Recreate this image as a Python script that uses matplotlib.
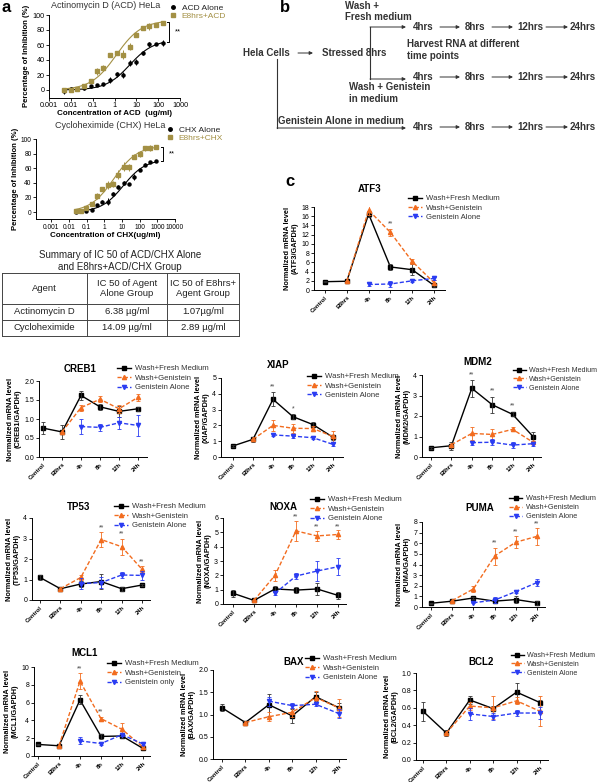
import numpy as np
import matplotlib.pyplot as plt
from matplotlib import ticker
from matplotlib.lines import Line2D

plt.rcParams['font.family'] = ['Liberation Sans', 'DejaVu Sans']

W, H = 600, 782
OLIVE = '#a39044'
ORANGE = '#f26c1f'
BLUE = '#2a3cf2'

# ---- panel a: dose response (% inhibition)
acd_conc = [0.005, 0.01, 0.02, 0.04, 0.08, 0.16, 0.31, 0.63, 1.25, 2.5, 5, 10, 20, 40, 80, 160]
acd_alone = [-1, 1, 1, 3, 5, 7, 8, 14, 21, 20, 36, 38, 49, 61, 62, 63]
acd_alone_err = [4, 3, 2, 3, 2, 1, 2, 4, 3, 4, 4, 4, 2, 3, 1, 4]
acd_e8 = [0, 0, 1, 5, 12, 25, 29, 47, 49, 47, 58, 74, 83, 85, 87, 90]
acd_e8_err = [3, 2, 2, 2, 3, 5, 4, 2, 2, 6, 5, 3, 3, 5, 2, 2]
acd_alone_fit = (67, 5.0, 0.8)   # top, EC50, hill slope
acd_e8_fit = (93, 1.2, 0.75)

chx_conc = [0.024, 0.049, 0.098, 0.195, 0.39, 0.78, 1.56, 3.1, 6.25, 12.5, 25, 50, 100, 200, 400, 800]
chx_alone = [0, 1, 2, 3, 9, 14, 14, 25, 34, 40, 39, 48, 58, 65, 69, 70]
chx_alone_err = [1, 1, 2, 2, 1, 2, 5, 3, 3, 3, 1, 4, 1, 2, 1, 1]
chx_e8 = [1, 1, 6, 11, 22, 32, 37, 38, 51, 62, 61, 76, 80, 87, 88, 89]
chx_e8_err = [2, 2, 1, 2, 4, 2, 5, 4, 6, 6, 5, 3, 4, 4, 4, 2]
chx_alone_fit = (72, 12.0, 0.7)
chx_e8_fit = (91, 3.5, 0.65)

table_rows = [["Agent", "IC 50 of Agent\nAlone Group", "IC 50 of E8hrs+\nAgent Group"],
              ["Actinomycin D", "6.38 \u00b5g/ml", "1.07\u00b5g/ml"],
              ["Cycloheximide", "14.09 \u00b5g/ml", "2.89 \u00b5g/ml"]]

# ---- panel c: qPCR time course
times = ["Control", "E8hrs", "4h", "8h", "12h", "24h"]

atf3_fresh = [1.8, 1.9, 16.5, 5.0, 4.4, 1.0]
atf3_fresh_err = [0.1, 0.1, 0.6, 0.6, 1.2, 0.4]
atf3_gen = [None, 1.9, 17.3, 12.5, 6.2, 1.6]
atf3_gen_err = [0, 0, 1.0, 0.8, 0.6, 0.5]
atf3_alone = [None, None, 1.2, 1.3, 2.0, 2.5]
atf3_alone_err = [0, 0, 0.3, 0.6, 0.3, 0.4]

creb1_fresh = [0.76, 0.66, 1.62, 1.32, 1.20, 1.27]
creb1_fresh_err = [0.15, 0.18, 0.12, 0.08, 0.15, 0.05]
creb1_gen = [None, 0.66, 1.30, 1.52, 1.27, 1.57]
creb1_gen_err = [0, 0, 0.08, 0.08, 0.1, 0.1]
creb1_alone = [None, None, 0.80, 0.78, 0.90, 0.83]
creb1_alone_err = [0, 0, 0.2, 0.1, 0.15, 0.27]

xiap_fresh = [0.7, 1.12, 3.65, 2.55, 2.05, 1.25]
xiap_fresh_err = [0.05, 0.15, 0.45, 0.15, 0.15, 0.15]
xiap_gen = [None, 1.12, 2.0, 1.82, 1.8, 1.3]
xiap_gen_err = [0, 0, 0.35, 0.3, 0.15, 0.35]
xiap_alone = [None, None, 1.4, 1.32, 1.22, 0.8]
xiap_alone_err = [0, 0, 0.1, 0.1, 0.1, 0.1]

mdm2_fresh = [0.45, 0.55, 3.35, 2.55, 2.08, 1.0]
mdm2_fresh_err = [0.05, 0.2, 0.4, 0.4, 0.1, 0.2]
mdm2_gen = [None, 0.6, 1.15, 1.1, 1.35, 0.72]
mdm2_gen_err = [0, 0, 0.3, 0.25, 0.1, 0.05]
mdm2_alone = [None, None, 0.7, 0.72, 0.58, 0.65]
mdm2_alone_err = [0, 0, 0.1, 0.15, 0.15, 0.1]

tp53_fresh = [1.1, 0.55, 0.78, 0.9, 0.55, 0.73]
tp53_fresh_err = [0.1, 0.1, 0.15, 0.35, 0.1, 0.05]
tp53_gen = [None, 0.55, 1.1, 2.95, 2.6, 1.5]
tp53_gen_err = [0, 0, 0.1, 0.35, 0.4, 0.15]
tp53_alone = [None, None, 0.8, 0.85, 1.22, 1.2]
tp53_alone_err = [0, 0, 0.25, 0.25, 0.15, 0.2]

noxa_fresh = [0.75, 0.25, 1.05, 0.97, 1.05, 0.6]
noxa_fresh_err = [0.25, 0.05, 0.2, 0.2, 0.4, 0.25]
noxa_gen = [None, 0.25, 2.0, 5.1, 4.75, 4.85]
noxa_gen_err = [0, 0, 0.4, 0.7, 0.35, 0.3]
noxa_alone = [None, None, 0.75, 1.95, 2.3, 2.6]
noxa_alone_err = [0, 0, 0.15, 0.2, 0.7, 0.6]

puma_fresh = [0.35, 0.55, 0.85, 0.55, 0.7, 0.4]
puma_fresh_err = [0.05, 0.1, 0.1, 0.15, 0.3, 0.2]
puma_gen = [None, 0.6, 1.7, 4.8, 6.1, 6.65]
puma_gen_err = [0, 0, 0.25, 0.8, 0.55, 0.8]
puma_alone = [None, None, 0.4, 0.65, 1.45, 2.3]
puma_alone_err = [0, 0, 0.05, 0.3, 0.1, 0.3]

mcl1_fresh = [1.3, 1.15, 6.3, 2.2, 2.25, 0.85]
mcl1_fresh_err = [0.1, 0.2, 0.5, 0.3, 0.2, 0.1]
mcl1_gen = [None, 1.15, 8.4, 4.2, 3.0, 1.0]
mcl1_gen_err = [0, 0, 0.9, 0.15, 0.7, 0.1]
mcl1_alone = [None, None, 1.7, 1.4, 2.4, 1.35]
mcl1_alone_err = [0, 0, 0.4, 0.2, 0.2, 0.15]

bax_fresh = [1.15, 0.82, 1.22, 0.97, 1.4, 1.15]
bax_fresh_err = [0.08, 0.03, 0.25, 0.15, 0.1, 0.1]
bax_gen = [None, 0.82, 0.95, 1.05, 1.38, 1.15]
bax_gen_err = [0, 0, 0.1, 0.1, 0.15, 0.2]
bax_alone = [None, None, 1.3, 1.2, 1.23, 1.02]
bax_alone_err = [0, 0, 0.1, 0.05, 0.05, 0.1]

bcl2_fresh = [0.56, 0.31, 0.69, 0.59, 0.78, 0.66]
bcl2_fresh_err = [0.11, 0.03, 0.05, 0.03, 0.11, 0.03]
bcl2_gen = [None, 0.31, 0.62, 0.60, 0.68, 0.56]
bcl2_gen_err = [0, 0, 0.05, 0.13, 0.04, 0.17]
bcl2_alone = [None, None, 0.53, 0.50, 0.54, 0.54]
bcl2_alone_err = [0, 0, 0.07, 0.04, 0.03, 0.07]

# significance marks: (time index, y, text)
atf3_stars = [(3, 13.6, '**')]
xiap_stars = [(2, 4.2, '**'), (3, 2.85, '*')]
mdm2_stars = [(2, 3.85, '**'), (3, 3.05, '**'), (4, 2.3, '**')]
tp53_stars = [(3, 3.35, '**'), (4, 3.05, '**'), (5, 1.7, '**')]
noxa_stars = [(3, 5.85, '**'), (4, 5.15, '**'), (5, 5.15, '**')]
puma_stars = [(3, 5.7, '**'), (4, 6.7, '**'), (5, 7.5, '**')]
mcl1_stars = [(2, 9.4, '**'), (3, 4.6, '**')]


def rect(l, t, r, b):
    return [l / W, 1 - b / H, (r - l) / W, (b - t) / H]


def hill(x, top, ec50, h):
    return top / (1 + (ec50 / x) ** h)


def arr(vals):
    return np.array([np.nan if v is None else v for v in vals], dtype=float)


fig = plt.figure(figsize=(W / 100, H / 100), dpi=100)

# overlay for free text, flow chart and table (pixel coordinates)
ov = fig.add_axes([0, 0, 1, 1])
ov.set_xlim(0, W)
ov.set_ylim(H, 0)
ov.axis('off')


def dose_panel(box, xlim, conc, alone, alone_err, e8, e8_err, fit_a, fit_e, title, tpos,
               leg_labels, lpos, xlabel, ylab_x, bracket, tick_fs=5.2):
    ax = fig.add_axes(rect(*box))
    for vals, err, fit, col, mk in [(alone, alone_err, fit_a, 'black', 'o'),
                                    (e8, e8_err, fit_e, OLIVE, 's')]:
        xs = np.logspace(np.log10(conc[0]), np.log10(conc[-1]), 200)
        ax.plot(xs, hill(xs, *fit), color=col, lw=0.8)
        ax.errorbar(conc, vals, yerr=err, fmt=mk, color=col, ms=2.2, elinewidth=0.7, capsize=0)
    ax.set_xscale('log')
    ax.set_xlim(*xlim)
    ax.set_ylim(-10, 100)
    ax.set_yticks(range(0, 101, 20))
    ax.set_xticks([10.0 ** k for k in range(-3, int(round(np.log10(xlim[1]))) + 1)])
    ax.xaxis.set_major_formatter(ticker.FuncFormatter(lambda v, p: f'{v:g}'))
    ax.xaxis.set_minor_locator(ticker.NullLocator())
    for s in ['top', 'right']:
        ax.spines[s].set_visible(False)
    for s in ['left', 'bottom']:
        ax.spines[s].set_linewidth(0.7)
    ax.tick_params(labelsize=tick_fs, length=2, width=0.6, pad=1.2)
    ax.set_xlabel(xlabel, fontsize=5.8, fontweight='bold', labelpad=1)
    ov.text(ylab_x, (box[1] + box[3]) / 2, 'Percentage of Inhibition (%)', rotation=90,
            fontsize=5.6, fontweight='bold', ha='center', va='center')
    ov.text(tpos[0], tpos[1], title, fontsize=6.5, ha='center', va='center', color='#333')
    handles = [Line2D([], [], ls='none', marker='o', ms=2.5, color='black'),
               Line2D([], [], ls='none', marker='s', ms=2.5, color=OLIVE)]
    ax.legend(handles, leg_labels, loc='upper left', bbox_to_anchor=(lpos[0] / W, 1 - lpos[1] / H),
              bbox_transform=fig.transFigure, frameon=False, fontsize=6, handlelength=0.8,
              handletextpad=0.6, labelspacing=0.05, borderpad=0, borderaxespad=0,
              labelcolor=['#222', OLIVE])
    bx, y1, y2, sx = bracket
    ax.plot([bx * 0.8, bx, bx, bx * 0.8], [y1, y1, y2, y2], color='black', lw=0.7, clip_on=False)
    ax.text(sx, (y1 + y2) / 2, '**', fontsize=5.5, ha='left', va='center')
    return ax


dose_panel((49, 15, 180, 97.5), (0.001, 1000), acd_conc, acd_alone, acd_alone_err, acd_e8, acd_e8_err,
           acd_alone_fit, acd_e8_fit, 'Actinomycin D (ACD) HeLa', (106, 6),
           ['ACD Alone', 'E8hrs+ACD'], (170, 4), 'Concentration of ACD  (ug/ml)', 27, (330, 91, 64, 600))
dose_panel((36, 139, 175, 219.3), (1.4e-4, 1e4), chx_conc, chx_alone, chx_alone_err, chx_e8, chx_e8_err,
           chx_alone_fit, chx_e8_fit, 'Cycloheximide (CHX) HeLa', (110, 126),
           ['CHX Alone', 'E8hrs+CHX'], (167, 126), 'Concentration of CHX(ug/ml)', 16, (2100, 89, 70, 4500),
           tick_fs=4.8)

ov.text(2, 8, 'a', fontsize=12, fontweight='bold', va='center')

# summary table
ov.text(120, 261, 'Summary of IC 50 of ACD/CHX Alone\nand E8hrs+ACD/CHX Group', fontsize=7,
        ha='center', va='center', linespacing=1.25, color='#222')
col_edges = [2, 87, 167, 239]
row_edges = [273, 304, 320, 336]
for y in row_edges:
    ov.plot([col_edges[0], col_edges[-1]], [y, y], color='#444', lw=0.7)
for x in col_edges:
    ov.plot([x, x], [row_edges[0], row_edges[-1]], color='#444', lw=0.7)
for i, row in enumerate(table_rows):
    yc = (row_edges[i] + row_edges[i + 1]) / 2
    for j, txt in enumerate(row):
        xc = (col_edges[j] + col_edges[j + 1]) / 2
        ov.text(xc, yc, txt, fontsize=6.8, ha='center', va='center', linespacing=1.2, color='#222')

# panel b: flow chart
BC = '#333333'
ov.text(280, 8, 'b', fontsize=12, fontweight='bold', va='center')


def btext(x, y, s, ha='left'):
    ov.text(x, y, s, fontsize=7, fontweight='bold', color=BC, ha=ha, va='center')


def arrow(x0, y0, x1, y1):
    ov.annotate('', xy=(x1, y1), xytext=(x0, y0),
                arrowprops=dict(arrowstyle='-|>', lw=0.7, color=BC, mutation_scale=5,
                                shrinkA=0, shrinkB=0))


btext(345, 6, 'Wash +')
btext(345, 17, 'Fresh medium')
btext(243, 53, 'Hela Cells')
arrow(298, 53, 313, 53)
btext(322, 53, 'Stressed 8hrs')
btext(407, 44, 'Harvest RNA at different')
btext(407, 56, 'time points')
btext(349, 87, 'Wash + Genistein')
btext(349, 99, 'in medium')
btext(278, 121, 'Genistein Alone in medium')
ov.plot([370, 370], [27, 79], color=BC, lw=0.8)
arrow(370, 27, 406, 27)
arrow(370, 79, 406, 79)
ov.plot([277, 277], [59, 128], color=BC, lw=0.8)
arrow(277, 128, 406, 128)
for yrow in [27, 77, 127]:
    btext(413, yrow, '4hrs')
    arrow(440, yrow, 460, yrow)
    btext(465, yrow, '8hrs')
    arrow(492, yrow, 513, yrow)
    btext(517, yrow, '12hrs')
    arrow(546, yrow, 568, yrow)
    btext(570, yrow, '24hrs')

ov.text(285, 182, 'c', fontsize=12, fontweight='bold', va='center')


def gene_panel(name, px, ymax, ystep, fmt, fresh, fresh_err, gen, gen_err, alone, alone_err,
               stars, title_xy, leg_xy, alone_label='Genistein Alone', leg_fs=5.6):
    left, xc, x24, right, ytop, y0 = px
    ppu = (x24 - xc) / 5
    ax = fig.add_axes(rect(left, ytop, right, y0))
    x = np.arange(len(times))
    h1, = ax.plot(x, arr(fresh), color='black', marker='s', ms=3.2, lw=1.0, ls='-')
    ax.errorbar(x, arr(fresh), yerr=fresh_err, fmt='none', ecolor='#333', elinewidth=0.6, capsize=1.2, capthick=0.6)
    h2, = ax.plot(x, arr(gen), color=ORANGE, marker='^', ms=3.0, lw=1.0, ls=(0, (3, 1.5)))
    ax.errorbar(x, arr(gen), yerr=gen_err, fmt='none', ecolor=ORANGE, elinewidth=0.6, capsize=1.2, capthick=0.6)
    h3, = ax.plot(x, arr(alone), color=BLUE, marker='v', ms=3.0, lw=1.0, ls=(0, (3, 1.5)))
    ax.errorbar(x, arr(alone), yerr=alone_err, fmt='none', ecolor=BLUE, elinewidth=0.6, capsize=1.2, capthick=0.6)
    for i, yv, s in stars:
        ax.text(i, yv, s, fontsize=5, ha='center', va='bottom', color='#444')
    ax.set_xlim(-(xc - left) / ppu, 5 + (right - x24) / ppu)
    ax.set_ylim(0, ymax)
    ax.set_yticks(np.arange(0, ymax + ystep / 2, ystep))
    ax.yaxis.set_major_formatter(ticker.FormatStrFormatter(fmt))
    ax.set_xticks(x)
    ax.set_xticklabels(times, rotation=45, ha='right', rotation_mode='anchor',
                       fontsize=4.2, fontweight='bold')
    for s in ['top', 'right']:
        ax.spines[s].set_visible(False)
    for s in ['left', 'bottom']:
        ax.spines[s].set_linewidth(0.7)
    ax.tick_params(axis='y', labelsize=5, length=2, width=0.6, pad=1.5)
    ax.tick_params(axis='x', length=2, width=0.6, pad=1.5)
    ax.set_ylabel('Normalized mRNA level\n(%s/GAPDH)' % name, fontsize=5.3, fontweight='bold',
                  labelpad=2, linespacing=1.1)
    ov.text(title_xy[0], title_xy[1], name, fontsize=7, fontweight='bold', ha='center', va='center')
    ax.legend([h1, h2, h3], ['Wash+Fresh Medium', 'Wash+Genistein', alone_label], loc='upper left',
              bbox_to_anchor=((leg_xy[0] - 8) / W, 1 - (leg_xy[1] - 5) / H),
              bbox_transform=fig.transFigure, frameon=False, fontsize=leg_fs, handlelength=1.8,
              handletextpad=0.5, labelspacing=0.25, borderpad=0, borderaxespad=0, labelcolor='#333')
    return ax


gene_panel('ATF3', (314, 325, 434, 445, 207, 290), 18, 2, '%d',
           atf3_fresh, atf3_fresh_err, atf3_gen, atf3_gen_err, atf3_alone, atf3_alone_err,
           atf3_stars, (370, 189), (416, 200))
gene_panel('CREB1', (39, 43, 138, 147, 381, 457), 2.0, 0.5, '%.1f',
           creb1_fresh, creb1_fresh_err, creb1_gen, creb1_gen_err, creb1_alone, creb1_alone_err,
           [], (80, 369), (125, 370))
gene_panel('XIAP', (221, 233, 333, 343, 378, 457), 5, 1, '%d',
           xiap_fresh, xiap_fresh_err, xiap_gen, xiap_gen_err, xiap_alone, xiap_alone_err,
           xiap_stars, (278, 365), (315, 378))
gene_panel('MDM2', (422, 431, 533, 541, 375, 457), 4, 1, '%d',
           mdm2_fresh, mdm2_fresh_err, mdm2_gen, mdm2_gen_err, mdm2_alone, mdm2_alone_err,
           mdm2_stars, (478, 362), (521, 372), leg_fs=5.1)
gene_panel('TP53', (32, 40, 142, 150, 518, 600), 4, 1, '%d',
           tp53_fresh, tp53_fresh_err, tp53_gen, tp53_gen_err, tp53_alone, tp53_alone_err,
           tp53_stars, (79, 507), (122, 508))
gene_panel('NOXA', (223, 233, 338, 346, 518, 604), 6, 1, '%d',
           noxa_fresh, noxa_fresh_err, noxa_gen, noxa_gen_err, noxa_alone, noxa_alone_err,
           noxa_stars, (283, 507), (318, 501))
gene_panel('PUMA', (422, 431, 537, 545, 522, 607), 8, 1, '%d',
           puma_fresh, puma_fresh_err, puma_gen, puma_gen_err, puma_alone, puma_alone_err,
           puma_stars, (480, 508), (517, 500), leg_fs=5.3)
gene_panel('MCL1', (34, 38, 143, 150, 667, 756), 10, 2, '%d',
           mcl1_fresh, mcl1_fresh_err, mcl1_gen, mcl1_gen_err, mcl1_alone, mcl1_alone_err,
           mcl1_stars, (85, 653), (115, 665), alone_label='Genistein only')
gene_panel('BAX', (213, 222, 339, 346, 670, 759), 2.0, 0.5, '%.1f',
           bax_fresh, bax_fresh_err, bax_gen, bax_gen_err, bax_alone, bax_alone_err,
           [], (294, 662), (313, 660))
gene_panel('BCL2', (416, 423, 540, 548, 673, 760), 1.0, 0.2, '%.1f',
           bcl2_fresh, bcl2_fresh_err, bcl2_gen, bcl2_gen_err, bcl2_alone, bcl2_alone_err,
           [], (481, 662), (519, 657), leg_fs=5.1)

fig.savefig('out.png', dpi=100)
